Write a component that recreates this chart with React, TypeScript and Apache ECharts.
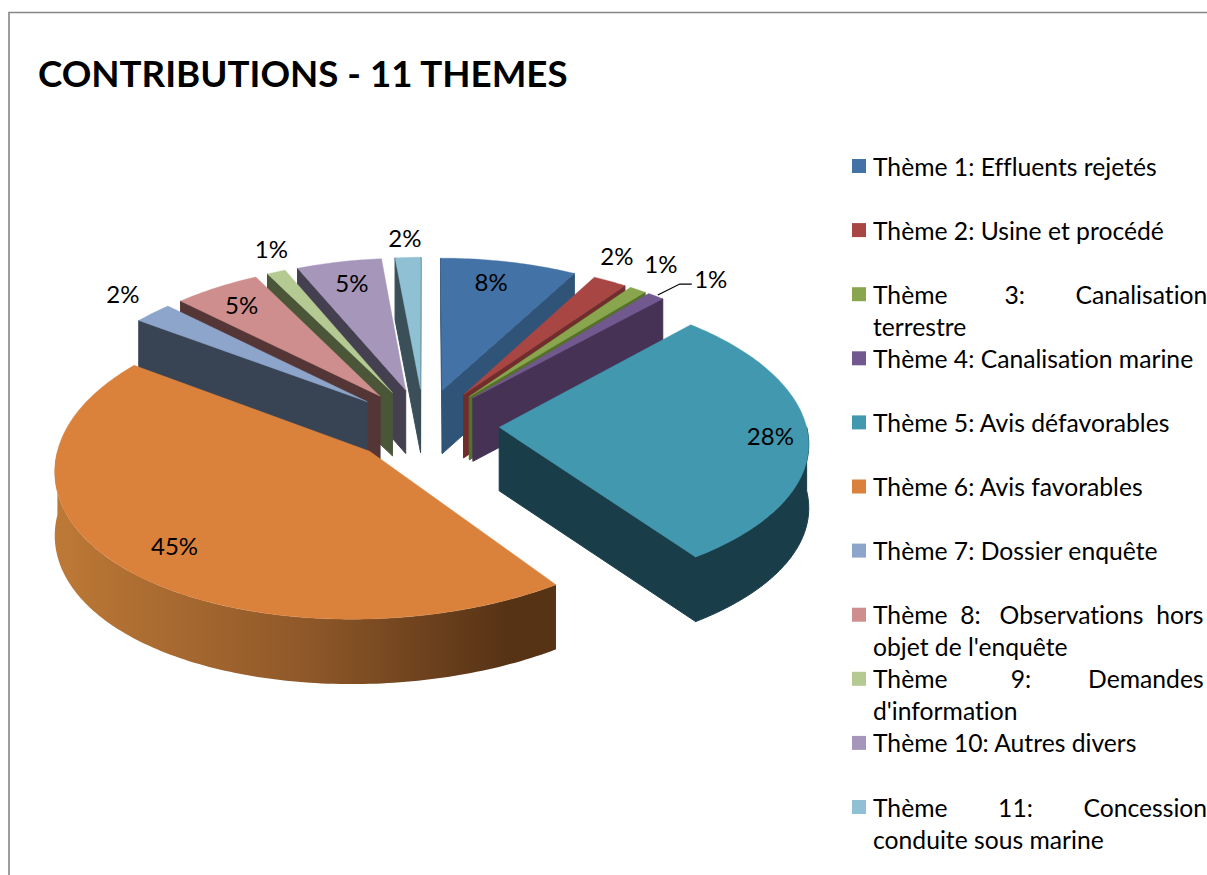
import React, { useEffect, useRef } from "react";
import * as echarts from "echarts";

const TITLE = "CONTRIBUTIONS - 11 THEMES";
const categories = [
  "Thème 1: Effluents rejetés",
  "Thème 2: Usine et procédé",
  "Thème 3: Canalisation terrestre",
  "Thème 4: Canalisation marine",
  "Thème 5: Avis défavorables",
  "Thème 6: Avis favorables",
  "Thème 7: Dossier enquête",
  "Thème 8: Observations hors objet de l'enquête",
  "Thème 9: Demandes d'information",
  "Thème 10: Autres divers",
  "Thème 11: Concession conduite sous marine",
];
// shares; the labels show them rounded
const values = [8, 2, 1, 1, 28, 45, 2.3, 5.1, 1.1, 5, 1.5];
// number of words on the first (justified) legend line; 0 = single line
const legendBreak = [0, 0, 3, 0, 0, 0, 0, 4, 3, 0, 3];

const topColors = ["#4372A6", "#A84644", "#89A54E", "#71588F", "#4198AF", "#DA823C", "#8EA5CB", "#CE8E8D", "#B5CA92", "#A596BA", "#8FC0D3"];
const sideColors = ["#2F5478", "#6F2E2C", "#55702A", "#463255", "#1A3D4A", "#8F5828", "#384454", "#553636", "#4B5639", "#454050", "#3A4F58"];
// drawing order: back slices first, front slices over them
const paintOrder = [0, 1, 2, 3, 4, 10, 9, 8, 7, 6, 5];
// label offset from the point of the rim on each slice's bisector
const labelOffsets = [[-18, 19], [7, -26], [23, -26], [55, -18], [-38, -1], [53, -21], [-30, -20], [25, 17], [-5, -24], [13, 20], [-3, -20]];
const leaderIndex = 3;
const leaderOffsets = [[2, -1], [24, -12], [36, -12]];

const FONT = "Lato";
const CENTER_X = 424;
const CENTER_Y = 425;
const RADIUS_X = 307;
const RADIUS_Y = 149;
const PERSPECTIVE_X = 0.097;
const PERSPECTIVE_Y = 0.085;
const SKEW = 9;
const EXPLODE = 0.245;
const LEGEND_WIDTH = 332;
const LEGEND_FONT = 24.7;
const LABEL_FONT = 24;
const LEGEND_LINE = 32.1;
const LEGEND_STEP = 64.1;

const total = values.reduce((a, b) => a + b, 0);
const RAD = Math.PI / 180;

function sliceAngles(i: number) {
  const before = values.slice(0, i).reduce((a, b) => a + b, 0);
  return [(before / total) * 360, ((before + values[i]) / total) * 360];
}

function project(u: number, v: number) {
  const near = Math.max(v, 0);
  return [
    CENTER_X + (RADIUS_X * u) / (1 - PERSPECTIVE_X * v) - SKEW * near * near,
    CENTER_Y + (RADIUS_Y * v) / (1 - PERSPECTIVE_Y * v),
  ];
}

function buildSlice(i: number) {
  const [a0, a1] = sliceAngles(i);
  const mid = ((a0 + a1) / 2) * RAD;
  const ou = EXPLODE * Math.sin(mid);
  const ov = -EXPLODE * Math.cos(mid);
  const top = (deg: number) => project(ou + Math.sin(deg * RAD), ov - Math.cos(deg * RAD));
  const depth = (v: number) => 63.5 + 1.2 * v;
  const bottomOf = (deg: number) => {
    const p = top(deg);
    return [p[0], p[1] + depth(ov - Math.cos(deg * RAD))];
  };
  const apex = project(ou, ov);
  const apexBottom = [apex[0], apex[1] + depth(ov)];
  const arc = (from: number, to: number, f: (d: number) => number[]) => {
    const n = Math.max(2, Math.ceil(to - from));
    const out: number[][] = [];
    for (let k = 0; k <= n; k++) out.push(f(from + ((to - from) * k) / n));
    return out;
  };
  const children: any[] = [];
  const poly = (points: number[][], fill: any, seam = 0.4) =>
    children.push({
      type: "polygon",
      shape: { points },
      style: { fill, stroke: typeof fill === "string" ? fill : undefined, lineWidth: seam },
      silent: true,
    });

  const inner = top((a0 + a1) / 2);
  [a0, a1].forEach((deg) => {
    const rim = top(deg);
    const ex = rim[0] - apex[0];
    const ey = rim[1] - apex[1];
    const interior = ex * (inner[1] - apex[1]) - ey * (inner[0] - apex[0]);
    if (ex * interior < 0) poly([apex, rim, bottomOf(deg), apexBottom], sideColors[i], 1);
  });

  const w0 = Math.max(a0, 90);
  const w1 = Math.min(a1, 270);
  if (w1 > w0) {
    const fill =
      i === 5
        ? new echarts.graphic.LinearGradient(0, 0, 1, 0, [
            { offset: 0, color: "#BD7936" },
            { offset: 0.5, color: "#8F5829" },
            { offset: 0.9, color: "#573316" },
            { offset: 1, color: "#573316" },
          ])
        : sideColors[i];
    poly([...arc(w0, w1, top), ...arc(w0, w1, bottomOf).reverse()], fill, 1);
  }
  poly([apex, ...arc(a0, a1, top)], topColors[i]);

  const rimMid = top((a0 + a1) / 2);
  if (i === leaderIndex) {
    children.push({
      type: "polyline",
      shape: { points: leaderOffsets.map((o) => [rimMid[0] + o[0], rimMid[1] + o[1]]) },
      style: { stroke: "#000", lineWidth: 1.2, fill: "none" },
      silent: true,
    });
  }
  children.push({
    type: "text",
    x: rimMid[0] + labelOffsets[i][0],
    y: rimMid[1] + labelOffsets[i][1],
    style: {
      text: `${Math.round(values[i])}%`,
      fill: "#000",
      fontFamily: FONT,
      fontSize: LABEL_FONT,
      align: "center",
      verticalAlign: "middle",
    },
    silent: true,
  });
  return { type: "group", children };
}

function legendText(name: string) {
  const i = categories.indexOf(name);
  const words = name.split(" ");
  const n = legendBreak[i];
  if (!n) return `\n${name}\n `;
  const first = words.slice(0, n);
  const ctx = document.createElement("canvas").getContext("2d")!;
  ctx.font = `${LEGEND_FONT}px ${FONT}`;
  const used = ctx.measureText(first.join("")).width;
  const space = ctx.measureText(" ").width;
  const spaces = Math.round((LEGEND_WIDTH - used) / space);
  let line = first[0];
  for (let k = 1; k < n; k++) {
    const count = Math.round((spaces * k) / (n - 1)) - Math.round((spaces * (k - 1)) / (n - 1));
    line += " ".repeat(count) + first[k];
  }
  return `\n${line}\n${words.slice(n).join(" ")}`;
}

export default function App() {
  const ref = useRef<HTMLDivElement>(null);
  useEffect(() => {
    document.body.style.margin = "0";
    const chart = echarts.init(ref.current!, undefined, { renderer: "svg" });
    chart.setOption({
      animation: false,
      backgroundColor: "#fff",
      title: {
        text: TITLE,
        left: 38,
        top: 54.5,
        padding: 0,
        textStyle: { fontFamily: FONT, fontWeight: "bold", fontSize: 36.7, color: "#000" },
      },
      legend: {
        orient: "vertical",
        left: 852,
        top: 166 - (LEGEND_LINE * 3) / 2,
        padding: 0,
        icon: "rect",
        itemWidth: 14,
        itemHeight: 14,
        itemGap: LEGEND_STEP - LEGEND_LINE * 3,
        selectedMode: false,
        data: categories,
        formatter: legendText,
        textStyle: {
          fontFamily: FONT,
          fontSize: LEGEND_FONT,
          lineHeight: LEGEND_LINE,
          color: "#000",
          padding: [0, 0, 0, 2],
        },
      },
      graphic: [
        {
          type: "rect",
          shape: { x: 9, y: 12.5, width: 1400, height: 1100 },
          style: { fill: "none", stroke: "#868686", lineWidth: 1.6 },
          silent: true,
        },
      ],
      series: paintOrder.map((i) => ({
        type: "custom",
        name: categories[i],
        coordinateSystem: "none",
        itemStyle: { color: topColors[i] },
        data: [values[i]],
        renderItem: () => buildSlice(i),
      })),
    });
    return () => chart.dispose();
  }, []);
  return (
    <div
      ref={ref}
      style={{ position: "fixed", left: 0, top: 0, width: 1207, height: 875, fontVariantLigatures: "none" }}
    />
  );
}
